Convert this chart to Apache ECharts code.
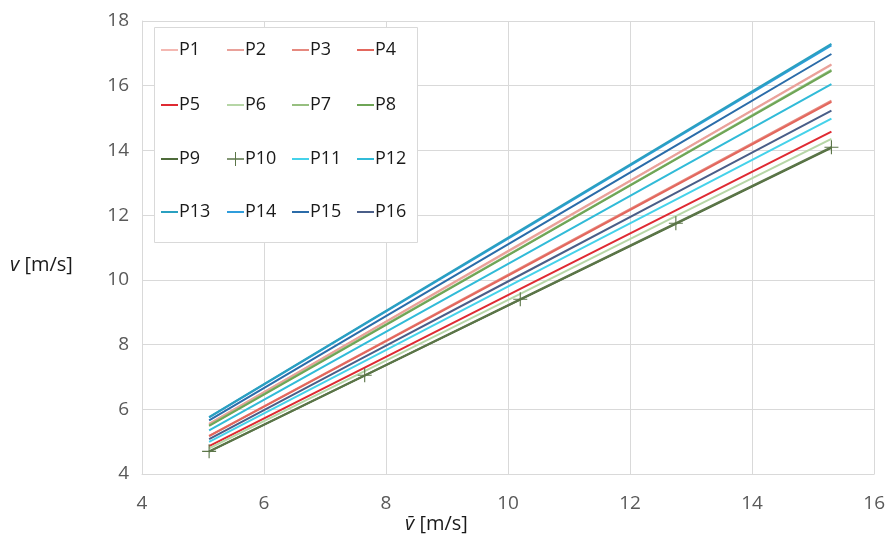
<!DOCTYPE html>
<html><head><meta charset="utf-8">
<script src="https://cdn.jsdelivr.net/npm/echarts@6/dist/echarts.min.js"></script>
<style>html,body{margin:0;padding:0;background:#fff}#c{width:888px;height:547px}</style>
</head><body><div id="c"></div>
<script>
// ---- data ----
const seriesNames = ['P1','P2','P3','P4','P5','P6','P7','P8','P9','P10','P11','P12','P13','P14','P15','P16'];
const xValues = [5.1, 7.65, 10.2, 12.75, 15.3];
const P1  = [5.55, 8.32, 11.09, 13.87, 16.64];
const P2  = [5.55, 8.33, 11.11, 13.88, 16.66];
const P3  = [5.18, 7.77, 10.36, 12.95, 15.54];
const P4  = [5.17, 7.75, 10.33, 12.92, 15.50];
const P5  = [4.86, 7.29, 9.72, 12.15, 14.58];
const P6  = [4.79, 7.18, 9.57, 11.97, 14.36];
const P7  = [5.50, 8.25, 10.99, 13.74, 16.49];
const P8  = [5.49, 8.23, 10.97, 13.72, 16.46];
const P9  = [4.69, 7.04, 9.39, 11.73, 14.08];
const P10 = [4.70, 7.05, 9.40, 11.75, 14.10];
const P11 = [4.99, 7.49, 9.99, 12.48, 14.98];
const P12 = [5.35, 8.03, 10.70, 13.38, 16.05];
const P13 = [5.76, 8.65, 11.53, 14.41, 17.29];
const P14 = [5.75, 8.63, 11.50, 14.38, 17.25];
const P15 = [5.66, 8.49, 11.32, 14.15, 16.98];
const P16 = [5.08, 7.62, 10.15, 12.69, 15.23];
const seriesValues = [P1,P2,P3,P4,P5,P6,P7,P8,P9,P10,P11,P12,P13,P14,P15,P16];
const xTicks = [4, 6, 8, 10, 12, 14, 16];
const yTicks = [4, 6, 8, 10, 12, 14, 16, 18];

// ---- styles ----
const colors = ['#f4b8b2','#e9a19a','#e6897f','#e3675d','#df2a32','#b6d6a6','#97bf80','#6ea556','#4e6b3a','#5b7548',
                '#45d2ea','#31bbd8','#2aa0c0','#2f9ddc','#2b6ca9','#4a5e88'];
const FONT = 'Open Sans';
const legendCols = [161, 227, 292, 357];
const legendRows = [53, 108, 162, 215];
const crossPath = 'path://M0,4.6H10V5.4H0Z M4.6,0H5.4V10H4.6Z';
const crossLegendPath = 'path://M0,6.3H17V7.7H0Z M8,0H9V14H8Z';

const chart = echarts.init(document.getElementById('c'), null, {renderer:'canvas'});

const series = seriesNames.map((n, i) => ({
  name: n,
  type: 'line',
  data: xValues.map((x, j) => [x, seriesValues[i][j]]),
  symbol: n === 'P10' ? crossPath : 'none',
  symbolSize: 14,
  showSymbol: n === 'P10',
  lineStyle: {color: colors[i], width: 2},
  itemStyle: {color: colors[i]},
  emphasis: {disabled: true},
  animation: false,
  z: n === 'P13' ? 3 : 2
}));

const legends = seriesNames.map((n, i) => {
  const isCross = n === 'P10';
  return {
    data: [{name: n, icon: isCross ? crossLegendPath : 'rect'}],
    left: legendCols[i % 4],
    top: legendRows[Math.floor(i / 4)] - 12,
    padding: 0,
    itemWidth: 17,
    itemHeight: isCross ? 14 : 2,
    itemGap: 0,
    textStyle: {fontFamily: FONT, fontSize: 18, color: '#1a1a1a', padding: [0,0,0,-4]},
    selectedMode: false
  };
});

chart.setOption({
  backgroundColor: '#ffffff',
  animation: false,
  grid: {left: 142, right: 13, top: 21, bottom: 73},
  xAxis: {
    type: 'value', min: xTicks[0], max: xTicks[xTicks.length-1], interval: 2,
    axisLine: {show: true, lineStyle: {color: '#d9d9d9', width: 1}},
    axisTick: {show: false},
    splitLine: {show: true, lineStyle: {color: '#d9d9d9', width: 1}},
    axisLabel: {fontFamily: FONT, fontSize: 19, color: '#595959', margin: 20}
  },
  yAxis: {
    type: 'value', min: yTicks[0], max: yTicks[yTicks.length-1], interval: 2,
    axisLine: {show: true, lineStyle: {color: '#d9d9d9', width: 1}},
    axisTick: {show: false},
    splitLine: {show: true, lineStyle: {color: '#d9d9d9', width: 1}},
    axisLabel: {fontFamily: FONT, fontSize: 19, color: '#595959', margin: 13}
  },
  legend: legends,
  graphic: [
    {type: 'rect', left: 154, top: 27, z: 1,
     shape: {width: 263, height: 215},
     style: {fill: '#ffffff', stroke: '#d9d9d9', lineWidth: 1}},
    {type: 'text', left: 10, top: 255, z: 5,
     style: {text: '{i|v} [m/s]', fontFamily: FONT, fontSize: 20, fill: '#1a1a1a',
       rich: {i: {fontStyle: 'italic', fontFamily: FONT, fontSize: 20, fill: '#1a1a1a'}}}},
    {type: 'text', left: 405, top: 514, z: 5,
     style: {text: '{i|v\u0304} [m/s]', fontFamily: FONT, fontSize: 20, fill: '#1a1a1a',
       rich: {i: {fontStyle: 'italic', fontFamily: FONT, fontSize: 20, fill: '#1a1a1a'}}}}
  ],
  series: series
});
</script>
</body></html>
